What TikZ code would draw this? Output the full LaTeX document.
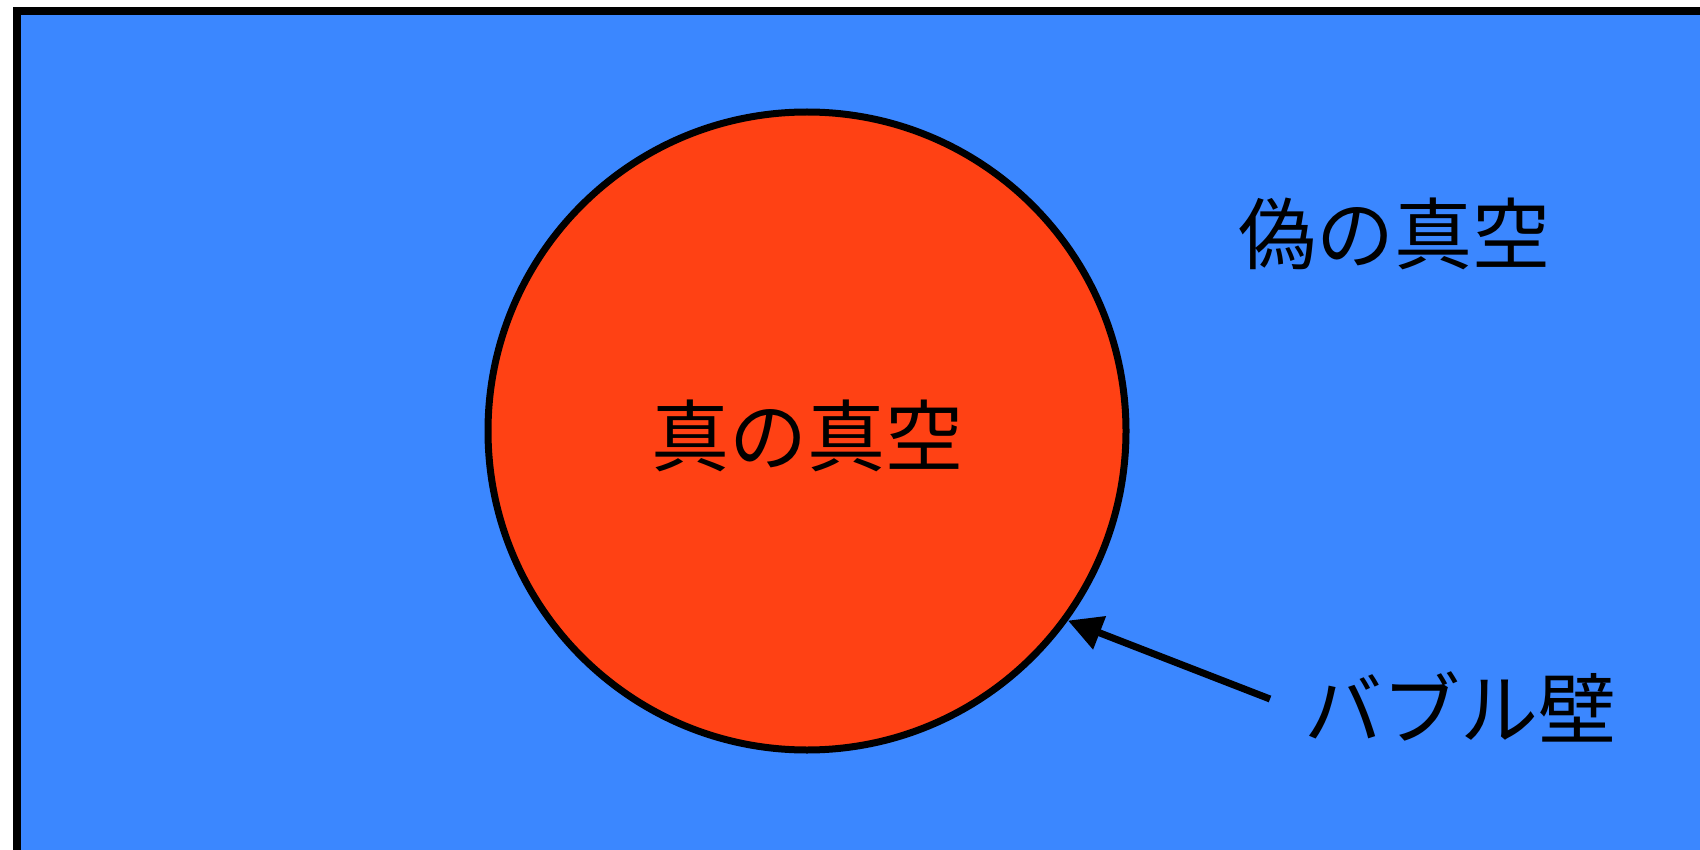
\documentclass[tikz,border=0pt]{standalone}
\usepackage{fontspec}
\setmainfont{Noto Sans CJK JP}
\usetikzlibrary{arrows.meta}
\definecolor{falseblue}{HTML}{3B87FF}
\definecolor{truered}{HTML}{FF4114}
\tikzset{
  lbl/.style={font=\fontsize{78}{92}\selectfont, inner sep=0pt},
  bubblestyle/.style={circle, draw=black, line width=7pt, fill=truered, minimum size=638pt, inner sep=0pt},
  pointer/.style={line width=7pt, -{Triangle[length=34pt, width=34pt]}}
}
\begin{document}
\begin{tikzpicture}[x=1pt,y=-1pt]
\useasboundingbox (0,0) rectangle (1700,850);
\fill[white] (0,0) rectangle (1700,850);
\begin{scope}
\clip (0,0) rectangle (1700,850);
\draw[line width=8pt, fill=falseblue] (17,11) rectangle (1730,880);
\end{scope}
\node[bubblestyle] (bubble) at (807,431) {};
\node[lbl] (truevac) at (807,436) {真の真空};
\node[lbl] (falsevac) at (1394,234) {偽の真空};
\node[lbl] (wall) at (1460,707) {バブル壁};
\coordinate (tail) at (1270,699);
\draw[pointer] (tail) -- (bubble.-36.6);
\end{tikzpicture}
\end{document}
